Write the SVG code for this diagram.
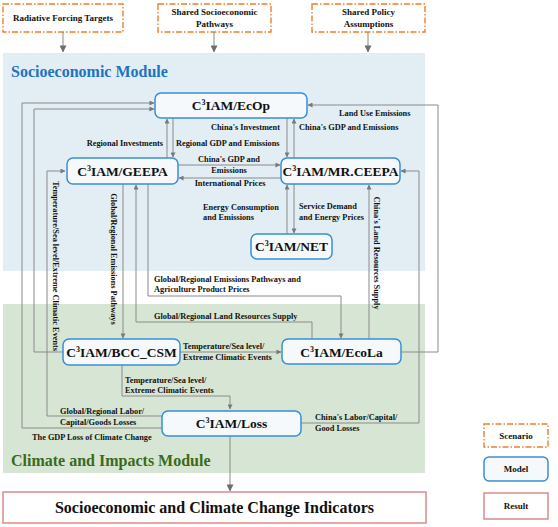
<svg xmlns="http://www.w3.org/2000/svg" width="558" height="527" viewBox="0 0 558 527">
<style>
.bg{fill:#ffffff}
.scen{fill:#ffffff;stroke:#f07f2a;stroke-width:1.4;stroke-dasharray:6,2,1.5,2}
.node{fill:#f6f9fb;stroke:#3b8dd4;stroke-width:1.5}
.res{fill:#ffffff;stroke:#d98a8a;stroke-width:1.5}
.ntx{font-family:"Liberation Serif","Times New Roman",serif;font-weight:bold;font-size:13.5px;fill:#111;text-anchor:middle}
.stx{font-family:"Liberation Serif","Times New Roman",serif;font-weight:bold;font-size:9px;fill:#111;text-anchor:middle}
.lbl{font-family:"Liberation Serif","Times New Roman",serif;font-weight:bold;font-size:8.3px;fill:#111}
.mid{text-anchor:middle}
.end{text-anchor:end}
.ln{fill:none;stroke:#8a8a8a;stroke-width:1}
.ar{marker-end:url(#ah)}
.ttl{font-family:"Liberation Serif","Times New Roman",serif;font-weight:bold;font-size:16px}
</style>
<defs>
<marker id="ah" viewBox="0 0 6 6" refX="5.5" refY="3" markerWidth="5" markerHeight="5" markerUnits="userSpaceOnUse" orient="auto">
<path d="M0,0 L6,3 L0,6 z" fill="#7a7a7a"/>
</marker>
<marker id="ahb" viewBox="0 0 8 8" refX="7.5" refY="4" markerWidth="7" markerHeight="7" markerUnits="userSpaceOnUse" orient="auto">
<path d="M0,0 L8,4 L0,8 z" fill="#6e6e6e"/>
</marker>
</defs>
<rect class="bg" x="0" y="0" width="558" height="527"/>

<g id="modules">
<rect x="3" y="53" width="422" height="218" fill="#e2eef3"/>
<text class="ttl" x="11" y="77" fill="#1f73c0">Socioeconomic Module</text>
<rect x="3" y="304" width="422" height="169" fill="#d7e6d4"/>
<text class="ttl" x="11" y="466" fill="#3b6b18">Climate and Impacts Module</text>
</g>

<g id="scenario-rft">
<rect class="scen" x="3" y="4" width="120" height="28"/>
<text class="stx" x="63" y="21">Radiative Forcing Targets</text>
</g>
<g id="scenario-ssp">
<rect class="scen" x="158" y="4" width="113" height="28"/>
<text class="stx" x="214.5" y="15">Shared Socioeconomic</text>
<text class="stx" x="214.5" y="27">Pathways</text>
</g>
<g id="scenario-spa">
<rect class="scen" x="312" y="4" width="113" height="28"/>
<text class="stx" x="368.5" y="15">Shared Policy</text>
<text class="stx" x="368.5" y="27">Assumptions</text>
</g>

<g id="connectors">
<path class="ln" d="M63,32 V52" marker-end="url(#ahb)"/>
<path class="ln" d="M214,32 V52" marker-end="url(#ahb)"/>
<path class="ln" d="M368,32 V52" marker-end="url(#ahb)"/>
<path class="ln ar" d="M162,428 H22 V103 H154"/>
<path class="ln ar" d="M63,352 H34 V109 H154"/>
<path class="ln ar" d="M162,416 H47 V171 H65"/>
<path class="ln ar" d="M167,158 V119"/>
<path class="ln ar" d="M173,118 V157"/>
<path class="ln ar" d="M287,118 V157"/>
<path class="ln ar" d="M294,158 V119"/>
<path class="ln ar" d="M401,352 H438 V105 H308"/>
<path class="ln ar" d="M301,423 H419 V171 H401"/>
<path class="ln ar" d="M178,165 H280"/>
<path class="ln ar" d="M281,178 H179"/>
<path class="ln ar" d="M287,234 V185"/>
<path class="ln ar" d="M294,184 V233"/>
<path class="ln ar" d="M123,184 V338"/>
<path class="ln ar" d="M312,339 V322 H136 V185"/>
<path class="ln ar" d="M148,184 V296 H341 V338"/>
<path class="ln ar" d="M369,339 V185"/>
<path class="ln ar" d="M180,352 H281"/>
<path class="ln ar" d="M122,364 V396 H230 V409"/>
<path class="ln" d="M230,436 V491" marker-end="url(#ahb)"/>

<text class="lbl end" x="163" y="146">Regional Investments</text>
<text class="lbl" x="176" y="146">Regional GDP and Emissions</text>
<text class="lbl" x="211" y="130">China's Investment</text>
<text class="lbl" x="299" y="130">China's GDP and Emissions</text>
<text class="lbl" x="339" y="116">Land Use Emissions</text>
<text class="lbl mid" x="229" y="162">China's GDP and</text>
<text class="lbl mid" x="229" y="173">Emissions</text>
<text class="lbl mid" x="230" y="186">International Prices</text>
<text class="lbl" x="203" y="210">Energy Consumption</text>
<text class="lbl" x="203" y="220">and Emissions</text>
<text class="lbl" x="299" y="209">Service Demand</text>
<text class="lbl" x="299" y="220">and Energy Prices</text>
<text class="lbl" x="154" y="282">Global/Regional Emissions Pathways and</text>
<text class="lbl" x="154" y="292">Agriculture Product Prices</text>
<text class="lbl" x="154" y="319">Global/Regional Land Resources Supply</text>
<text class="lbl" x="183" y="349">Temperature/Sea level/</text>
<text class="lbl" x="183" y="360">Extreme Climatic Events</text>
<text class="lbl" x="125" y="383">Temperature/Sea level/</text>
<text class="lbl" x="125" y="393">Extreme Climatic Events</text>
<text class="lbl" x="60" y="414">Global/Regional Labor/</text>
<text class="lbl" x="60" y="425">Capital/Goods Losses</text>
<text class="lbl" x="32" y="440">The GDP Loss of Climate Change</text>
<text class="lbl" x="315" y="420">China's Labor/Capital/</text>
<text class="lbl" x="315" y="431">Good Losses</text>
<text class="lbl mid" transform="translate(53,266) rotate(90)">Temperature/Sea level/Extreme Climatic Events</text>
<text class="lbl mid" transform="translate(111,259) rotate(90)">Global/Regional Emissions Pathways</text>
<text class="lbl mid" transform="translate(374,253) rotate(90)">China's Land Resources Supply</text>
</g>

<g id="ecop">
<rect class="node" x="155" y="93" width="152" height="25" rx="6"/>
<text class="ntx" x="231" y="110">C<tspan font-size="8" dy="-5">3</tspan><tspan dy="5">IAM/EcOp</tspan></text>
</g>
<g id="geepa">
<rect class="node" x="67" y="158" width="111" height="26" rx="6"/>
<text class="ntx" x="122.5" y="176">C<tspan font-size="8" dy="-5">3</tspan><tspan dy="5">IAM/GEEPA</tspan></text>
</g>
<g id="mrceepa">
<rect class="node" x="281" y="158" width="119" height="26" rx="6"/>
<text class="ntx" x="340.5" y="176">C<tspan font-size="8" dy="-5">3</tspan><tspan dy="5">IAM/MR.CEEPA</tspan></text>
</g>
<g id="net">
<rect class="node" x="251" y="234" width="81" height="25" rx="6"/>
<text class="ntx" x="291.5" y="251">C<tspan font-size="8" dy="-5">3</tspan><tspan dy="5">IAM/NET</tspan></text>
</g>
<g id="bcccsm">
<rect class="node" x="63" y="339" width="117" height="26" rx="6"/>
<text class="ntx" x="121.5" y="357">C<tspan font-size="8" dy="-5">3</tspan><tspan dy="5">IAM/BCC_CSM</tspan></text>
</g>
<g id="ecola">
<rect class="node" x="282" y="339" width="119" height="25" rx="6"/>
<text class="ntx" x="341.5" y="357">C<tspan font-size="8" dy="-5">3</tspan><tspan dy="5">IAM/EcoLa</tspan></text>
</g>
<g id="loss">
<rect class="node" x="162" y="411" width="139" height="25" rx="6"/>
<text class="ntx" x="231.5" y="428">C<tspan font-size="8" dy="-5">3</tspan><tspan dy="5">IAM/Loss</tspan></text>
</g>
<g id="result">
<rect class="res" x="3" y="492" width="423" height="31"/>
<text class="ttl" x="214.5" y="513" text-anchor="middle" fill="#111">Socioeconomic and Climate Change Indicators</text>
</g>

<g id="legend-scenario">
<rect class="scen" x="484" y="424" width="64" height="23"/>
<text class="stx" x="516" y="439">Scenario</text>
</g>
<g id="legend-model">
<rect class="node" x="484" y="457" width="64" height="24" rx="5" fill="#ffffff"/>
<text class="stx" x="516" y="472">Model</text>
</g>
<g id="legend-result">
<rect class="res" x="484" y="493" width="64" height="26"/>
<text class="stx" x="516" y="509">Result</text>
</g>
</svg>
